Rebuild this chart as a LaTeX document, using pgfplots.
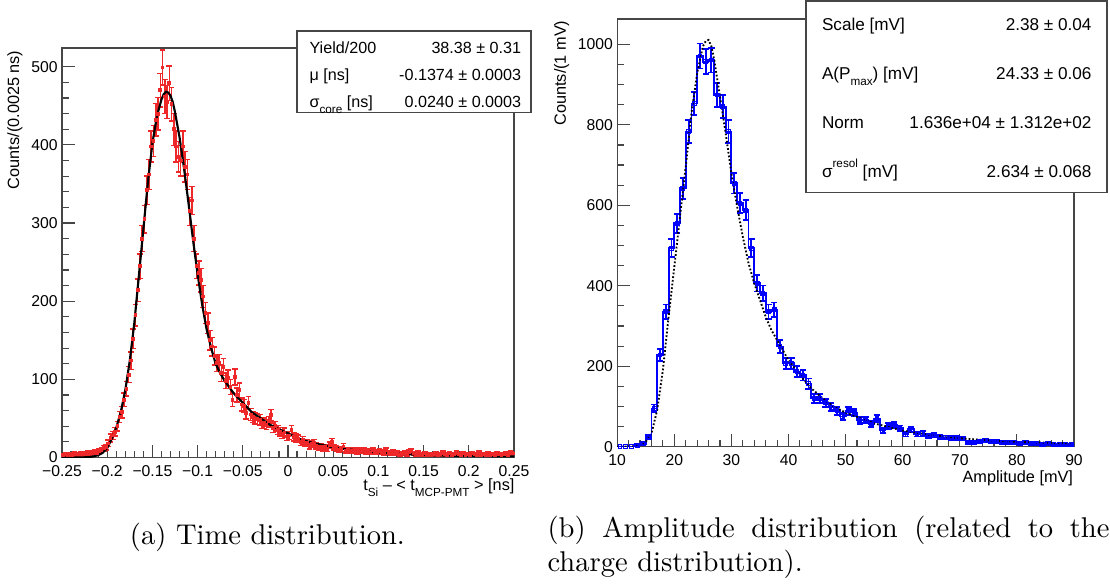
\documentclass[border=0pt]{standalone}
\usepackage{fontspec}
\usepackage{pgfplots}
\usepackage{pgfplotstable}
\pgfplotsset{compat=1.18}
\newfontfamily\rootfont{Liberation Sans}
\newcommand{\rsub}[1]{\raisebox{-0.38em}{\fontsize{4.1}{4.1}\selectfont #1}}
\newcommand{\rsup}[1]{\raisebox{0.55em}{\fontsize{4.1}{4.1}\selectfont #1}}
\definecolor{hred}{RGB}{238,40,40}
\definecolor{hblue}{RGB}{0,0,255}
\definecolor{frame}{RGB}{70,70,70}

% time distribution, 0.0025 ns bins
\pgfplotstableread{
x y
-0.24875 3
-0.24625 4
-0.24375 3
-0.24125 4
-0.23875 3
-0.23625 5
-0.23375 4
-0.23125 4
-0.22875 5
-0.22625 4
-0.22375 5
-0.22125 6
-0.21875 5
-0.21625 6
-0.21375 7
-0.21125 6
-0.20875 8
-0.20625 10
-0.20375 12
-0.20125 13
-0.19875 18
-0.19625 25
-0.19375 28
-0.19125 33
-0.18875 40
-0.18625 52
-0.18375 58
-0.18125 74
-0.17875 88
-0.17625 106
-0.17375 124
-0.17125 152
-0.16875 182
-0.16625 214
-0.16375 245
-0.16125 280
-0.15875 305
-0.15625 342
-0.15375 362
-0.15125 398
-0.14875 405
-0.14625 432
-0.14375 440
-0.14125 470
-0.13875 499
-0.13625 462
-0.13375 455
-0.13125 479
-0.12875 452
-0.12625 420
-0.12375 398
-0.12125 385
-0.11875 380
-0.11625 398
-0.11375 372
-0.11125 362
-0.10875 315
-0.10625 329
-0.10375 280
-0.10125 245
-0.09875 236
-0.09625 227
-0.09375 206
-0.09125 185
-0.08875 172
-0.08625 150
-0.08375 142
-0.08125 130
-0.07875 121
-0.07625 121
-0.07375 108
-0.07125 116
-0.06875 98
-0.06625 102
-0.06375 90
-0.06125 74
-0.05875 103
-0.05625 80
-0.05375 86
-0.05125 68
-0.04875 66
-0.04625 57
-0.04375 70
-0.04125 55
-0.03875 52
-0.03625 50
-0.03375 49
-0.03125 48
-0.02875 44
-0.02625 44
-0.02375 42
-0.02125 46
-0.01875 54
-0.01625 38
-0.01375 40
-0.01125 35
-0.00875 33
-0.00625 30
-0.00375 32
-0.00125 27
0.00125 28
0.00375 35
0.00625 26
0.00875 25
0.01125 24
0.01375 20
0.01625 22
0.01875 19
0.02125 19
0.02375 15
0.02625 17
0.02875 19
0.03125 15
0.03375 13
0.03625 14
0.03875 12
0.04125 13
0.04375 11
0.04625 16
0.04875 20
0.05125 13
0.05375 12
0.05625 10
0.05875 11
0.06125 14
0.06375 9
0.06625 10
0.06875 8
0.07125 9
0.07375 10
0.07625 7
0.07875 9
0.08125 8
0.08375 10
0.08625 7
0.08875 8
0.09125 6
0.09375 9
0.09625 7
0.09875 6
0.10125 8
0.10375 7
0.10625 5
0.10875 9
0.11125 6
0.11375 5
0.11625 7
0.11875 5
0.12125 6
0.12375 4
0.12625 5
0.12875 6
0.13125 4
0.13375 7
0.13625 8
0.13875 5
0.14125 4
0.14375 6
0.14625 3
0.14875 4
0.15125 5
0.15375 3
0.15625 4
0.15875 3
0.16125 4
0.16375 5
0.16625 3
0.16875 4
0.17125 6
0.17375 4
0.17625 3
0.17875 5
0.18125 3
0.18375 4
0.18625 6
0.18875 4
0.19125 3
0.19375 5
0.19625 3
0.19875 4
0.20125 3
0.20375 5
0.20625 4
0.20875 3
0.21125 6
0.21375 3
0.21625 4
0.21875 3
0.22125 5
0.22375 3
0.22625 4
0.22875 3
0.23125 5
0.23375 4
0.23625 3
0.23875 4
0.24125 5
0.24375 3
0.24625 6
0.24875 5
}\timedata

% amplitude distribution, 1 mV bins
\pgfplotstableread{
x y
10.5 0
11.5 0
12.5 0
13.5 4
14.5 7
15.5 25
16.5 95
17.5 228
18.5 335
19.5 493
20.5 555
21.5 642
22.5 783
23.5 853
24.5 971
25.5 957
26.5 961
27.5 874
28.5 845
29.5 783
30.5 655
31.5 605
32.5 588
33.5 493
34.5 406
35.5 381
36.5 335
37.5 340
38.5 249
39.5 207
40.5 207
41.5 186
42.5 178
43.5 157
44.5 120
45.5 120
46.5 109
47.5 98
48.5 89
49.5 75
50.5 89
51.5 85
52.5 65
53.5 66
54.5 56
55.5 70
56.5 41
57.5 51
58.5 54
59.5 46
60.5 31
61.5 43
62.5 31
63.5 33
64.5 27
65.5 29
66.5 25
67.5 23
68.5 22
69.5 21
70.5 20
71.5 10
72.5 11
73.5 12
74.5 15
75.5 12
76.5 14
77.5 10
78.5 11
79.5 10
80.5 7
81.5 11
82.5 7
83.5 7
84.5 5
85.5 8
86.5 5
87.5 6
88.5 5
89.5 5
}\ampdata

\pgfplotsset{rootaxis/.style={
  scale only axis, anchor=south west,
  axis line style={frame, line width=0.45pt},
  tick pos=left, tick align=inside,
  major tick length=4.4pt, minor tick length=2.3pt,
  every tick/.style={frame, line width=0.4pt},
  tick label style={font=\rootfont\fontsize{5.5}{6}\selectfont, inner sep=0pt},
  /pgf/number format/assume math mode=true,
  /pgf/number format/1000 sep={},
  yticklabel style={anchor=east, xshift=-1.3pt},
  xticklabel style={anchor=north, yshift=-2.5pt},
}}

\begin{document}
\begin{tikzpicture}
\useasboundingbox (0,0) rectangle (388.5pt,204.75pt);

% ---------- (a) time distribution ----------
\begin{axis}[rootaxis, at={(21.7pt,44.625pt)}, width=158.2pt, height=143.325pt,
  xmin=-0.25, xmax=0.25, ymin=0, ymax=524,
  xtick={-0.25,-0.2,-0.15,-0.1,-0.05,0,0.05,0.1,0.15,0.2,0.25},
  xticklabels={−0.25,−0.2,−0.15,−0.1,−0.05,0,0.05,0.1,0.15,0.2,0.25},
  minor x tick num=4,
  ytick={0,100,200,300,400,500}, minor y tick num=4,
]
\addplot[hred, only marks, mark=square*, mark size=0.45pt,
  error bars/.cd, y dir=both, y explicit,
  error bar style={draw=hred, line width=0.55pt},
  error mark=-,
  error mark options={draw=hred, rotate=90, mark size=1pt, line width=0.5pt}]
  table[x=x, y=y, y error expr={sqrt(\thisrow{y})}] {\timedata};
\addplot[black, line width=0.75pt] coordinates {
(-0.25,0) (-0.23,0) (-0.22,0.5) (-0.215,1.5) (-0.21,3) (-0.205,6)
(-0.2,12) (-0.195,24) (-0.19,38) (-0.185,58) (-0.18,86) (-0.175,124)
(-0.17,172) (-0.165,232) (-0.16,292) (-0.155,352) (-0.15,402) (-0.145,437)
(-0.14,458) (-0.1375,465) (-0.135,468) (-0.1325,467) (-0.13,463) (-0.1275,455)
(-0.125,442) (-0.12,410) (-0.115,370) (-0.11,325) (-0.105,278) (-0.1,235)
(-0.095,196) (-0.09,164) (-0.085,140) (-0.08,120) (-0.075,108) (-0.07,98)
(-0.065,90) (-0.06,82) (-0.05,70) (-0.04,58) (-0.03,50) (-0.02,42)
(-0.01,36) (0,31) (0.01,25) (0.02,21) (0.03,18) (0.04,15.5) (0.05,13)
(0.06,11.3) (0.07,10) (0.08,8.8) (0.09,7.5) (0.1,6.4) (0.12,5) (0.14,3.8)
(0.16,3) (0.18,2.4) (0.2,2) (0.25,1.4)
};
\end{axis}

% ---------- (b) amplitude distribution ----------
\begin{axis}[rootaxis, at={(216.02pt,48.405pt)}, width=159.88pt, height=149.695pt,
  xmin=10, xmax=90, ymin=0, ymax=1063,
  xtick={10,20,30,40,50,60,70,80,90}, minor x tick num=4,
  ytick={0,200,400,600,800,1000}, minor y tick num=3,
]
\addplot[hblue, line width=0.65pt, const plot mark mid, no marks] table[x=x, y=y] {\ampdata};
\addplot[hblue, only marks, mark=square, mark size=0.65pt, mark options={draw=hblue, line width=0.4pt},
  error bars/.cd, y dir=both, y explicit,
  error bar style={draw=hblue, line width=0.65pt},
  error mark=-,
  error mark options={draw=hblue, rotate=90, mark size=1.1pt, line width=0.65pt}]
  table[x=x, y=y, y error expr={sqrt(\thisrow{y})}] {\ampdata};
\addplot[black, line width=0.65pt, dash pattern=on 0.6pt off 0.7pt] coordinates {
(10,0) (12,0.3) (13,1) (14,4) (15,12) (16,33) (17,91) (18,190) (19,323)
(20,447) (21,572) (22,696) (23,828) (24,928) (25,995) (25.5,1008) (26,1011)
(26.5,995) (27,961) (28,870) (29,779) (30,679) (31,597) (32,522) (33,456)
(34,406) (35,365) (36,323) (37,290) (38,265) (39,240) (40,215) (42,178)
(44,145) (46,120) (48,99) (50,85) (55,58) (60,40) (65,29) (70,21) (75,16)
(80,12) (85,10) (90,8)
};
\end{axis}

% axis titles
\begin{scope}[every node/.style={font=\rootfont\fontsize{5.7}{6.5}\selectfont, inner sep=0pt}]
\node[rotate=90, anchor=east] at (5.25pt,187.25pt) {Counts/(0.0025 ns)};
\node[anchor=base east] at (180.25pt,33.25pt)
  {t\rsub{Si} – < t\rsub{MCP-PMT} > [ns]};
\node[rotate=90, anchor=east] at (196.6pt,197.75pt) {Counts/(1 mV)};
\node[anchor=base east] at (375.76pt,35.9pt) {Amplitude [mV]};
\end{scope}

% stats box (a)
\draw[frame, line width=0.45pt, fill=white] (103.95pt,165.45pt) rectangle (185.85pt,193.9pt);
\begin{scope}[every node/.style={font=\rootfont\fontsize{5.65}{6.5}\selectfont, inner sep=0pt}]
\node[anchor=base west] at (108.15pt,186.2pt) {Yield/200};
\node[anchor=base east] at (182.6pt,186.2pt) {38.38 ± 0.31};
\node[anchor=base west] at (108.15pt,176.6pt) {μ [ns]};
\node[anchor=base east] at (182.6pt,176.6pt) {-0.1374 ± 0.0003};
\node[anchor=base west] at (108.15pt,167.3pt) {σ\rsub{core} [ns]};
\node[anchor=base east] at (182.6pt,167.3pt) {0.0240 ± 0.0003};
\end{scope}

% stats box (b)
\draw[frame, line width=0.45pt, fill=white] (282.1pt,137.3pt) rectangle (387.45pt,204.4pt);
\begin{scope}[every node/.style={font=\rootfont\fontsize{6}{7}\selectfont, inner sep=0pt}]
\node[anchor=base west] at (287.5pt,194.25pt) {Scale [mV]};
\node[anchor=base east] at (382.2pt,194.25pt) {2.38 ± 0.04};
\node[anchor=base west] at (287.5pt,177.1pt) {A(P\rsub{max}) [mV]};
\node[anchor=base east] at (382.2pt,177.1pt) {24.33 ± 0.06};
\node[anchor=base west] at (287.5pt,159.95pt) {Norm};
\node[anchor=base east] at (382.2pt,159.95pt) {1.636e+04 ± 1.312e+02};
\node[anchor=base west] at (287.5pt,142.8pt) {σ\rsup{resol} [mV]};
\node[anchor=base east] at (382.2pt,142.8pt) {2.634 ± 0.068};
\end{scope}

% captions
\begin{scope}[every node/.style={font=\fontsize{10}{12}\selectfont, inner sep=0pt}]
\node[anchor=base] at (93.6pt,14.35pt) {(a) Time distribution.};
\node[anchor=base west] at (191.45pt,16.6pt)
  {\makebox[196.7pt][s]{(b) Amplitude distribution (related to the}};
\node[anchor=base west] at (191.45pt,4.65pt) {charge distribution).};
\end{scope}
\end{tikzpicture}
\end{document}
